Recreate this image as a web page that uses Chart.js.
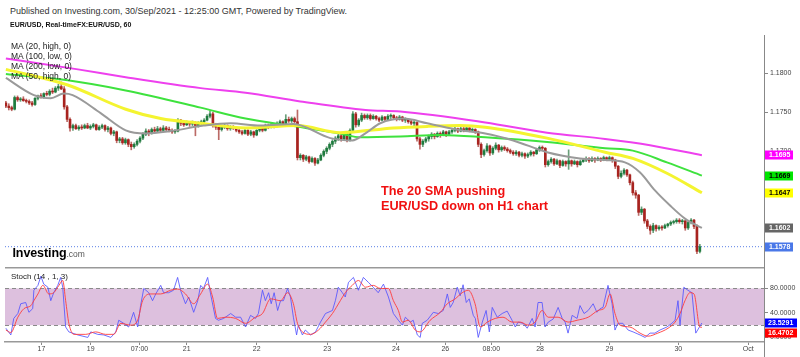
<!DOCTYPE html>
<html><head><meta charset="utf-8">
<script src="https://cdn.jsdelivr.net/npm/chart.js@4.4.0/dist/chart.umd.min.js"></script>
<style>
html,body{margin:0;padding:0;background:#fff;}
#wrap{position:relative;width:800px;height:357px;overflow:hidden;font-family:"Liberation Sans",Arial,sans-serif;background:#fff;}
canvas{display:block;}
.t{position:absolute;white-space:nowrap;line-height:10px;}
</style></head><body>
<div id="wrap">
<div style="position:absolute;left:0;top:35px;width:800px;height:232px"><canvas id="main" width="800" height="232"></canvas></div>
<div style="position:absolute;left:0;top:267px;width:800px;height:90px"><canvas id="stoch" width="800" height="90"></canvas></div>
<div class="t" style="left:10px;top:6.2px;font-size:9px;color:#333">Published on Investing.com, 30/Sep/2021 - 12:25:00 GMT, Powered by TradingView.</div>
<div class="t" style="left:10px;top:20.3px;font-size:7px;font-weight:bold;color:#111">EUR/USD, Real-timeFX:EUR/USD, 60</div>
<div class="t" style="left:11px;top:40.5px;font-size:8.5px;color:#222">MA (20, high, 0)</div>
<div class="t" style="left:11px;top:50.8px;font-size:8.5px;color:#222">MA (100, low, 0)</div>
<div class="t" style="left:11px;top:61.1px;font-size:8.5px;color:#222">MA (200, low, 0)</div>
<div class="t" style="left:11px;top:71.4px;font-size:8.5px;color:#222">MA (50, high, 0)</div>
<div class="t" style="left:11px;top:272px;font-size:8px;color:#222">Stoch (14 , 1, 3)</div>
<div class="t" style="left:12.5px;top:244.4px;line-height:15px;"><span style="font-size:12.5px;font-weight:bold;color:#000;letter-spacing:-0.1px">Investing</span><span style="font-size:8.5px;color:#555">.com</span></div>
<div class="t" style="left:381px;top:184px;line-height:15px;font-size:12.7px;font-weight:bold;color:#f01010">The 20 SMA pushing</div>
<div class="t" style="left:381px;top:199px;line-height:15px;font-size:12.7px;font-weight:bold;color:#f01010">EUR/USD down on H1 chart</div>
</div>
<script>
// ---------- DATA ----------
const dayLabels = ['17','19','07:00','21','22','23','24','26','08:00','28','29','30','Oct'];
const dayTickIdx = [12.2,29.1,45.8,62,86,110.2,133.8,150.7,166.5,183.2,207,230.6,254.6];
const priceTicks = [1.17,1.175,1.18];
const stochTicks = [0,40,80];
const stochLevels = [20,80];

const opens = [
1.1762,1.1758,1.1756,1.1754,1.1769,1.1766,1.1767,1.1765,1.1764,1.1762,
1.1760,1.1768,1.1771,1.1770,1.1774,1.1773,1.1777,1.1776,1.1781,1.1783,
1.1780,1.1757,1.1741,1.1730,1.1733,1.1729,1.1731,1.1730,1.1733,1.1730,
1.1732,1.1734,1.1728,1.1731,1.1733,1.1728,1.1730,1.1723,1.1725,1.1714,
1.1716,1.1711,1.1715,1.1709,1.1706,1.1709,1.1713,1.1717,1.1722,1.1726,
1.1723,1.1728,1.1726,1.1729,1.1727,1.1730,1.1728,1.1727,1.1725,1.1726,
1.1740,1.1736,1.1734,1.1737,1.1735,1.1737,1.1733,1.1736,1.1738,1.1740,
1.1745,1.1748,1.1734,1.1731,1.1728,1.1731,1.1733,1.1729,1.1731,1.1730,
1.1727,1.1725,1.1723,1.1727,1.1722,1.1725,1.1721,1.1727,1.1730,1.1727,
1.1733,1.1731,1.1734,1.1732,1.1736,1.1738,1.1735,1.1741,1.1739,1.1742,
1.1738,1.1692,1.1695,1.1690,1.1693,1.1687,1.1691,1.1685,1.1689,1.1695,
1.1700,1.1704,1.1709,1.1713,1.1717,1.1720,1.1716,1.1722,1.1715,1.1727,
1.1748,1.1734,1.1740,1.1746,1.1743,1.1746,1.1742,1.1745,1.1742,1.1740,
1.1744,1.1741,1.1745,1.1746,1.1743,1.1741,1.1744,1.1740,1.1741,1.1738,
1.1736,1.1737,1.1716,1.1709,1.1713,1.1716,1.1719,1.1722,1.1719,1.1723,
1.1721,1.1725,1.1722,1.1725,1.1727,1.1729,1.1726,1.1729,1.1727,1.1730,
1.1727,1.1728,1.1725,1.1709,1.1696,1.1701,1.1707,1.1698,1.1704,1.1708,
1.1702,1.1705,1.1703,1.1701,1.1699,1.1697,1.1699,1.1695,1.1697,1.1694,
1.1696,1.1699,1.1697,1.1702,1.1705,1.1704,1.1683,1.1687,1.1690,1.1684,
1.1688,1.1682,1.1687,1.1684,1.1688,1.1684,1.1687,1.1683,1.1687,1.1689,
1.1691,1.1688,1.1691,1.1689,1.1691,1.1689,1.1692,1.1690,1.1692,1.1689,
1.1681,1.1668,1.1672,1.1676,1.1670,1.1660,1.1647,1.1644,1.1622,1.1626,
1.1611,1.1604,1.1599,1.1605,1.1601,1.1603,1.1602,1.1605,1.1607,1.1609,
1.1610,1.1612,1.1610,1.1611,1.1602,1.1609,1.1612,1.1604,1.1572];
const highs = [
1.1764,1.1761,1.1758,1.1771,1.1771,1.1769,1.1770,1.1767,1.1766,1.1764,
1.1769,1.1772,1.1774,1.1775,1.1777,1.1779,1.1781,1.1783,1.1786,1.1789,
1.1783,1.1759,1.1743,1.1735,1.1735,1.1733,1.1734,1.1735,1.1736,1.1734,
1.1736,1.1735,1.1733,1.1735,1.1734,1.1732,1.1731,1.1727,1.1726,1.1718,
1.1718,1.1717,1.1716,1.1712,1.1711,1.1715,1.1719,1.1724,1.1729,1.1728,
1.1730,1.1731,1.1732,1.1731,1.1733,1.1732,1.1731,1.1729,1.1728,1.1742,
1.1741,1.1739,1.1739,1.1738,1.1739,1.1738,1.1738,1.1740,1.1742,1.1747,
1.1752,1.1750,1.1736,1.1733,1.1733,1.1735,1.1734,1.1733,1.1733,1.1731,
1.1729,1.1727,1.1729,1.1728,1.1727,1.1726,1.1728,1.1732,1.1731,1.1735,
1.1735,1.1736,1.1736,1.1738,1.1740,1.1739,1.1747,1.1744,1.1744,1.1744,
1.1753,1.1697,1.1696,1.1695,1.1694,1.1693,1.1692,1.1691,1.1697,1.1702,
1.1706,1.1711,1.1715,1.1719,1.1723,1.1722,1.1724,1.1723,1.1729,1.1751,
1.1750,1.1742,1.1749,1.1748,1.1748,1.1748,1.1747,1.1746,1.1744,1.1746,
1.1745,1.1747,1.1748,1.1747,1.1745,1.1746,1.1745,1.1743,1.1742,1.1740,
1.1739,1.1738,1.1718,1.1715,1.1718,1.1721,1.1724,1.1723,1.1725,1.1725,
1.1727,1.1726,1.1727,1.1729,1.1731,1.1730,1.1731,1.1731,1.1732,1.1731,
1.1730,1.1729,1.1726,1.1711,1.1703,1.1710,1.1708,1.1706,1.1711,1.1709,
1.1707,1.1707,1.1705,1.1703,1.1701,1.1701,1.1700,1.1699,1.1698,1.1698,
1.1701,1.1700,1.1704,1.1707,1.1707,1.1705,1.1689,1.1692,1.1691,1.1690,
1.1689,1.1689,1.1688,1.1702,1.1689,1.1689,1.1688,1.1689,1.1691,1.1693,
1.1692,1.1693,1.1692,1.1693,1.1692,1.1694,1.1693,1.1694,1.1693,1.1690,
1.1682,1.1675,1.1678,1.1677,1.1671,1.1662,1.1650,1.1645,1.1629,1.1627,
1.1613,1.1606,1.1608,1.1606,1.1605,1.1605,1.1607,1.1608,1.1611,1.1612,
1.1614,1.1614,1.1613,1.1612,1.1611,1.1614,1.1613,1.1606,1.1581];
const lows = [
1.1756,1.1753,1.1752,1.1753,1.1764,1.1764,1.1764,1.1762,1.1760,1.1758,
1.1759,1.1766,1.1768,1.1768,1.1771,1.1771,1.1774,1.1775,1.1778,1.1779,
1.1754,1.1738,1.1726,1.1727,1.1728,1.1727,1.1728,1.1729,1.1729,1.1728,
1.1730,1.1727,1.1727,1.1729,1.1726,1.1725,1.1721,1.1720,1.1711,1.1711,
1.1709,1.1709,1.1706,1.1702,1.1704,1.1707,1.1711,1.1715,1.1720,1.1720,
1.1722,1.1724,1.1725,1.1725,1.1726,1.1726,1.1725,1.1723,1.1723,1.1725,
1.1733,1.1732,1.1733,1.1732,1.1733,1.1720,1.1731,1.1734,1.1736,1.1739,
1.1743,1.1731,1.1728,1.1715,1.1726,1.1729,1.1727,1.1727,1.1728,1.1725,
1.1723,1.1721,1.1722,1.1720,1.1720,1.1718,1.1720,1.1725,1.1725,1.1726,
1.1729,1.1730,1.1730,1.1731,1.1734,1.1733,1.1734,1.1737,1.1737,1.1736,
1.1689,1.1689,1.1687,1.1688,1.1685,1.1686,1.1682,1.1684,1.1688,1.1693,
1.1697,1.1702,1.1706,1.1710,1.1714,1.1713,1.1714,1.1712,1.1713,1.1726,
1.1731,1.1732,1.1738,1.1741,1.1741,1.1740,1.1741,1.1740,1.1738,1.1739,
1.1739,1.1740,1.1742,1.1741,1.1739,1.1740,1.1738,1.1737,1.1736,1.1734,
1.1733,1.1713,1.1703,1.1706,1.1711,1.1713,1.1716,1.1716,1.1718,1.1718,
1.1720,1.1719,1.1721,1.1723,1.1725,1.1724,1.1725,1.1725,1.1726,1.1725,
1.1725,1.1723,1.1706,1.1692,1.1694,1.1699,1.1695,1.1696,1.1702,1.1699,
1.1700,1.1701,1.1699,1.1697,1.1695,1.1695,1.1693,1.1693,1.1691,1.1692,
1.1694,1.1694,1.1696,1.1700,1.1701,1.1680,1.1681,1.1685,1.1682,1.1683,
1.1679,1.1681,1.1681,1.1677,1.1681,1.1683,1.1680,1.1682,1.1686,1.1687,
1.1686,1.1687,1.1686,1.1688,1.1687,1.1688,1.1688,1.1689,1.1686,1.1678,
1.1665,1.1666,1.1670,1.1668,1.1657,1.1644,1.1640,1.1618,1.1619,1.1608,
1.1601,1.1594,1.1596,1.1598,1.1599,1.1599,1.1601,1.1603,1.1605,1.1607,
1.1608,1.1608,1.1607,1.1599,1.1600,1.1607,1.1601,1.1569,1.1570];
const closes = [
1.1758,1.1756,1.1754,1.1769,1.1766,1.1767,1.1765,1.1764,1.1762,1.1760,
1.1768,1.1771,1.1770,1.1774,1.1773,1.1777,1.1776,1.1781,1.1783,1.1780,
1.1757,1.1741,1.1730,1.1733,1.1729,1.1731,1.1730,1.1733,1.1730,1.1732,
1.1734,1.1728,1.1731,1.1733,1.1728,1.1730,1.1723,1.1725,1.1714,1.1716,
1.1711,1.1715,1.1709,1.1706,1.1709,1.1713,1.1717,1.1722,1.1726,1.1723,
1.1728,1.1726,1.1729,1.1727,1.1730,1.1728,1.1727,1.1725,1.1726,1.1740,
1.1736,1.1734,1.1737,1.1735,1.1737,1.1733,1.1736,1.1738,1.1740,1.1745,
1.1748,1.1734,1.1731,1.1728,1.1731,1.1733,1.1729,1.1731,1.1730,1.1727,
1.1725,1.1723,1.1727,1.1722,1.1725,1.1721,1.1727,1.1730,1.1727,1.1733,
1.1731,1.1734,1.1732,1.1736,1.1738,1.1735,1.1741,1.1739,1.1742,1.1738,
1.1692,1.1695,1.1690,1.1693,1.1687,1.1691,1.1685,1.1689,1.1695,1.1700,
1.1704,1.1709,1.1713,1.1717,1.1720,1.1716,1.1722,1.1715,1.1727,1.1748,
1.1734,1.1740,1.1746,1.1743,1.1746,1.1742,1.1745,1.1742,1.1740,1.1744,
1.1741,1.1745,1.1746,1.1743,1.1741,1.1744,1.1740,1.1741,1.1738,1.1736,
1.1737,1.1716,1.1709,1.1713,1.1716,1.1719,1.1722,1.1719,1.1723,1.1721,
1.1725,1.1722,1.1725,1.1727,1.1729,1.1726,1.1729,1.1727,1.1730,1.1727,
1.1728,1.1725,1.1709,1.1696,1.1701,1.1707,1.1698,1.1704,1.1708,1.1702,
1.1705,1.1703,1.1701,1.1699,1.1697,1.1699,1.1695,1.1697,1.1694,1.1696,
1.1699,1.1697,1.1702,1.1705,1.1704,1.1683,1.1687,1.1690,1.1684,1.1688,
1.1682,1.1687,1.1684,1.1688,1.1684,1.1687,1.1683,1.1687,1.1689,1.1691,
1.1688,1.1691,1.1689,1.1691,1.1689,1.1692,1.1690,1.1692,1.1689,1.1681,
1.1668,1.1672,1.1676,1.1670,1.1660,1.1647,1.1644,1.1622,1.1626,1.1611,
1.1604,1.1599,1.1605,1.1601,1.1603,1.1602,1.1605,1.1607,1.1609,1.1610,
1.1612,1.1610,1.1611,1.1602,1.1609,1.1612,1.1604,1.1572,1.1578];

const ma20Idx = [0,9.6,15.4,19.9,22.9,32.5,41.1,47.9,56.5,67.8,77.1,87.3,98.6,111.3,118.8,123.3,128.4,136.3,144.5,155.8,164.4,174,185.6,196.9,205.5,212.3,217.5,222.6,227.7,232.9,238.7];
const ma20 = [1.1794,1.1772,1.1768,1.1774,1.1772,1.1749,1.1727,1.1723,1.1726,1.1733,1.1736,1.1733,1.1735,1.1717,1.1714,1.1723,1.1736,1.1742,1.1736,1.1727,1.1723,1.1714,1.1699,1.1691,1.1689,1.1686,1.1673,1.1650,1.1631,1.1614,1.1602];
const ma50Idx = [0,21.2,41.1,53.1,66.8,82.2,100,114.7,132.9,144.5,155.8,164.4,185.6,205.5,215,226.7,238.7];
const ma50 = [1.1805,1.1785,1.1754,1.1742,1.1736,1.1730,1.1733,1.1724,1.1730,1.1732,1.1733,1.1731,1.1717,1.1699,1.1691,1.1672,1.1647];
const ma100Idx = [0,21.2,41.1,66.8,82.2,97.6,114.7,121.6,135.3,149,164.4,185.6,205.5,215,226.7,238.7];
const ma100 = [1.1799,1.1791,1.1778,1.1756,1.1742,1.1733,1.1723,1.1718,1.1719,1.1721,1.1718,1.1712,1.1704,1.1701,1.1686,1.1669];
const ma200Idx = [0,24.7,41.1,66.8,82.2,101,123.3,135.3,164.4,185.6,205.5,220.9,238.7];
const ma200 = [1.1819,1.1805,1.1795,1.1781,1.1775,1.1764,1.1753,1.1751,1.1737,1.1724,1.1716,1.1708,1.1695];

const stochKIdx = [0,1.7,2.7,4.1,5.1,6.8,7.9,9.2,9.6,11,12,13,14.4,15.4,16.4,17.8,18.8,19.5,20.5,21.6,24.7,28.1,29.1,31.5,33.6,36,37.7,38.7,40.4,42.1,43.8,45.2,46.2,47.3,49,50.3,51.4,53.1,54.1,55.8,57.5,58.9,59.9,61.6,62.7,64.4,65.8,66.8,67.8,69.2,70.2,71.9,72.9,74.7,77.1,78.8,80.5,82.2,83.9,85.6,86.6,88,89,90.1,91,92,93.2,94.2,95.2,96.6,97.6,98.6,99.7,100.3,101.7,102.7,104.5,106.2,107.9,109.6,112,113,114,115.4,116.4,117.5,119.2,120.9,122.6,124.3,126,127.7,129.5,131.2,132.9,134.6,136,137,138.7,139.7,141.1,142.1,142.8,144.5,146.6,148.3,150,151.4,152.4,153.4,154.8,155.8,156.8,157.9,158.9,160.3,161,162,163.4,164.7,165.8,166.8,168.5,170.2,171.9,173.6,174.7,175.7,177.4,178.8,180.5,181.5,182.5,183.9,184.9,186,187.7,189.4,190.8,191.8,192.8,194.2,195.9,196.9,198.3,199.7,201.4,202.7,203.8,204.8,206.5,207.9,208.9,209.9,211.6,213.4,215.1,217.5,219.2,220.9,222.6,224.3,226.7,228.4,229.5,230.5,231.2,232.5,233.9,235.3,236.6,238.7];
const stochK = [15,4,31,39,55,57,41,47,77,85,100,87,82,60,73,85,98,82,17,9,4,0,9,5,4,0,9,28,23,17,41,17,52,80,73,60,71,85,73,73,77,98,77,55,66,41,60,85,80,98,71,31,28,31,39,33,33,17,36,31,39,77,60,73,55,73,44,60,60,80,66,33,4,20,4,12,4,9,25,39,44,60,82,73,66,90,98,77,98,90,82,73,87,66,39,28,20,33,25,28,4,0,23,28,41,39,44,71,49,57,82,68,86,57,63,36,31,0,25,44,9,49,33,39,43,28,17,25,23,15,31,17,57,57,17,25,30,49,31,25,7,36,31,52,39,44,55,41,47,49,85,55,12,23,23,12,9,4,0,7,7,12,17,23,28,60,20,82,77,73,7,23.5291];
const stochDIdx = [0,1.7,4.1,6.2,8.6,9.6,11,12.7,14.7,16.4,18.2,19.5,20.5,21.6,23.3,27.4,30.8,34.2,37,39.4,42.8,45.2,46.9,49.7,53.1,56.5,58.9,61.6,64.4,66.8,69.2,70.9,72.6,75.3,78.8,82.2,85.6,88,90.8,94.2,96.6,98.6,100,101.7,104.5,107.2,109.6,112,114.7,116.4,118.8,120.9,123.3,126,128.4,131.2,132.9,134.6,136,138,140.4,142.1,145.5,149,151.4,154.1,156.5,158.6,160.9,162.7,165.1,167.8,170.5,173.6,176.4,179.1,181.5,183.9,186,189.4,192.8,195.9,199.7,203.1,205.5,207.2,208.9,210.6,214,217.5,220.2,223.6,227.1,229.5,231.2,232.9,234.6,236,238,238.7];
const stochD = [12,8,33,47,52,60,71,85,71,73,85,93,60,23,5,5,9,5,5,23,20,28,60,71,71,77,79,71,55,71,87,66,31,33,31,23,33,39,63,60,73,55,23,9,5,12,25,39,60,73,85,93,82,85,80,80,60,44,25,28,12,9,28,41,55,63,73,77,55,17,25,31,33,25,25,20,25,44,33,33,25,28,33,44,49,71,39,20,17,7,2,7,15,25,39,60,73,71,17,16.4702];

// ---------- CHARTS ----------
const FONT = '"Liberation Sans", Arial, sans-serif';
Chart.defaults.font.family = FONT;
const xMin = -0.3, xMax = 260;
const idx = closes.map((_, i) => i);
const pts = (xs, ys) => xs.map((x, k) => ({x, y: ys[k]}));
const isUp = i => closes[i] >= opens[i];
const last = a => a[a.length - 1];

const COL = {ma20:'#9a9a9a', ma50:'#f4f430', ma100:'#3ee23e', ma200:'#ee40ee', up:'#1e7b3e', dn:'#a8231f', upW:'#6a9f7a', dnW:'#bb6a66', price:'#5a7fe6'};

const mainBoxes = {
  id:'mainBoxes',
  afterDraw(chart){
    const {ctx, chartArea, scales:{y}} = chart;
    const items = [
      {v:last(ma200), bg:'#ff00ff', fg:'#fff'},
      {v:last(ma100), bg:'#00e400', fg:'#000'},
      {v:last(ma50),  bg:'#ffff00', fg:'#000'},
      {v:last(ma20),  bg:'#666666', fg:'#fff'},
      {v:last(closes),bg:'#4a78e8', fg:'#fff'}
    ];
    ctx.save();
    ctx.font = 'bold 7px ' + FONT;
    ctx.textBaseline = 'middle';
    items.forEach(it => {
      const py = Math.round(y.getPixelForValue(it.v));
      const x0 = chartArea.right + 1;
      ctx.fillStyle = it.bg;
      ctx.fillRect(x0, py - 4.5, 28, 9);
      ctx.fillStyle = it.fg;
      ctx.fillText(it.v.toFixed(4), x0 + 4, py + 0.5);
    });
    ctx.restore();
  }
};

new Chart(document.getElementById('main'), {
  type:'bar',
  data:{datasets:[
    {type:'line', data:pts(ma20Idx, ma20), borderColor:COL.ma20, borderWidth:2, pointRadius:0, cubicInterpolationMode:'monotone', order:0},
    {type:'line', data:pts(ma50Idx, ma50), borderColor:COL.ma50, borderWidth:3, pointRadius:0, cubicInterpolationMode:'monotone', order:0},
    {type:'line', data:pts(ma100Idx, ma100), borderColor:COL.ma100, borderWidth:2, pointRadius:0, cubicInterpolationMode:'monotone', order:0},
    {type:'line', data:pts(ma200Idx, ma200), borderColor:COL.ma200, borderWidth:2, pointRadius:0, cubicInterpolationMode:'monotone', order:0},
    {type:'bar', data:idx.map(i => ({x:i, y:[opens[i], closes[i]]})), barThickness:2, maxBarThickness:2, minBarLength:1, grouped:false,
      backgroundColor: c => isUp(c.dataIndex) ? COL.up : COL.dn, borderWidth:0, order:1},
    {type:'bar', data:idx.map(i => ({x:i, y:[lows[i], highs[i]]})), barThickness:1, maxBarThickness:1, grouped:false,
      backgroundColor: c => isUp(c.dataIndex) ? COL.upW : COL.dnW, borderWidth:0, order:2},
    {type:'line', data:[{x:xMin, y:last(closes)}, {x:xMax, y:last(closes)}], borderColor:COL.price, borderWidth:1, borderDash:[1,2], pointRadius:0, order:3}
  ]},
  options:{
    responsive:false, animation:false, events:[],
    layout:{padding:{left:5, right:0, top:0, bottom:0}},
    plugins:{legend:{display:false}, tooltip:{enabled:false}},
    scales:{
      x:{type:'linear', min:xMin, max:xMax, offset:false, display:false},
      y:{type:'linear', position:'right', min:1.1552, max:1.1849,
        grid:{drawOnChartArea:false, drawTicks:true, tickLength:4, color:'#888'},
        border:{display:true, color:'#888', width:1},
        ticks:{font:{size:7}, color:'#444', padding:2, callback:v => v.toFixed(4)},
        afterBuildTicks:s => { s.ticks = priceTicks.map(v => ({value:v})); },
        afterFit:s => { s.width = 36; s.paddingTop = 0; s.paddingBottom = 0; }
      }
    }
  },
  plugins:[mainBoxes]
});

const stochDeco = {
  id:'stochDeco',
  beforeDatasetsDraw(chart){
    const {ctx, chartArea:a, scales:{y}} = chart;
    const yHi = y.getPixelForValue(Math.max(...stochLevels));
    const yLo = y.getPixelForValue(Math.min(...stochLevels));
    ctx.save();
    ctx.fillStyle = '#ddc0de';
    ctx.fillRect(a.left, yHi, a.right - a.left, yLo - yHi);
    ctx.strokeStyle = '#8a8a8a'; ctx.lineWidth = 1; ctx.setLineDash([4,3]);
    stochLevels.forEach(v => {
      const py = Math.round(y.getPixelForValue(v)) + 0.5;
      ctx.beginPath(); ctx.moveTo(a.left, py); ctx.lineTo(a.right, py); ctx.stroke();
    });
    ctx.restore();
  },
  afterDraw(chart){
    const {ctx, chartArea:a, scales:{y}} = chart;
    ctx.save();
    ctx.strokeStyle = '#999'; ctx.lineWidth = 1.5;
    ctx.beginPath(); ctx.moveTo(a.left, a.top + 0.75); ctx.lineTo(a.right, a.top + 0.75); ctx.stroke();
    ctx.strokeStyle = '#888'; ctx.lineWidth = 1;
    ctx.beginPath(); ctx.moveTo(a.right + 0.5, a.bottom); ctx.lineTo(a.right + 0.5, chart.height); ctx.stroke();
    const items = [
      {v:last(stochK), bg:'#0000ff'},
      {v:last(stochD), bg:'#ff0000'}
    ].map(it => ({...it, py:y.getPixelForValue(it.v)})).sort((p, q) => p.py - q.py);
    let prevBottom = -1e9;
    ctx.font = 'bold 7px ' + FONT; ctx.textBaseline = 'middle';
    items.forEach(it => {
      let top = Math.round(it.py) - 4.5;
      if (top < prevBottom + 1) top = prevBottom + 1;
      prevBottom = top + 9;
      ctx.fillStyle = it.bg; ctx.fillRect(a.right + 1, top, 32, 9);
      ctx.fillStyle = '#fff'; ctx.fillText(it.v.toFixed(4), a.right + 4, top + 5);
    });
    ctx.restore();
  }
};

new Chart(document.getElementById('stoch'), {
  type:'line',
  data:{datasets:[
    {data:pts(stochDIdx, stochD), borderColor:'rgba(255,60,60,0.9)', borderWidth:1, pointRadius:0, cubicInterpolationMode:'monotone'},
    {data:pts(stochKIdx, stochK), borderColor:'rgba(85,85,255,0.85)', borderWidth:1, pointRadius:0, tension:0}
  ]},
  options:{
    responsive:false, animation:false, events:[],
    layout:{padding:{left:5, right:0, top:0, bottom:0}},
    plugins:{legend:{display:false}, tooltip:{enabled:false}},
    scales:{
      x:{type:'linear', min:xMin, max:xMax, offset:false, position:'bottom',
        grid:{drawOnChartArea:false, drawTicks:true, tickLength:3, color:'#888'},
        border:{display:true, color:'#999', width:1.5},
        ticks:{autoSkip:false, maxRotation:0, padding:0, font:{size:7}, color:'#444', callback:(v, k) => dayLabels[k]},
        afterBuildTicks:s => { s.ticks = dayTickIdx.map(v => ({value:v})); },
        afterFit:s => { s.height = 15; s.paddingLeft = 0; s.paddingRight = 0; }
      },
      y:{type:'linear', position:'right', min:-7.5, max:115,
        grid:{drawOnChartArea:false, drawTicks:true, tickLength:4, color:'#888'},
        border:{display:true, color:'#888', width:1},
        ticks:{font:{size:7}, color:'#444', padding:2, callback:v => v.toFixed(4)},
        afterBuildTicks:s => { s.ticks = stochTicks.map(v => ({value:v})); },
        afterFit:s => { s.width = 36; s.paddingTop = 0; s.paddingBottom = 0; }
      }
    }
  },
  plugins:[stochDeco]
});
</script>
</body></html>
